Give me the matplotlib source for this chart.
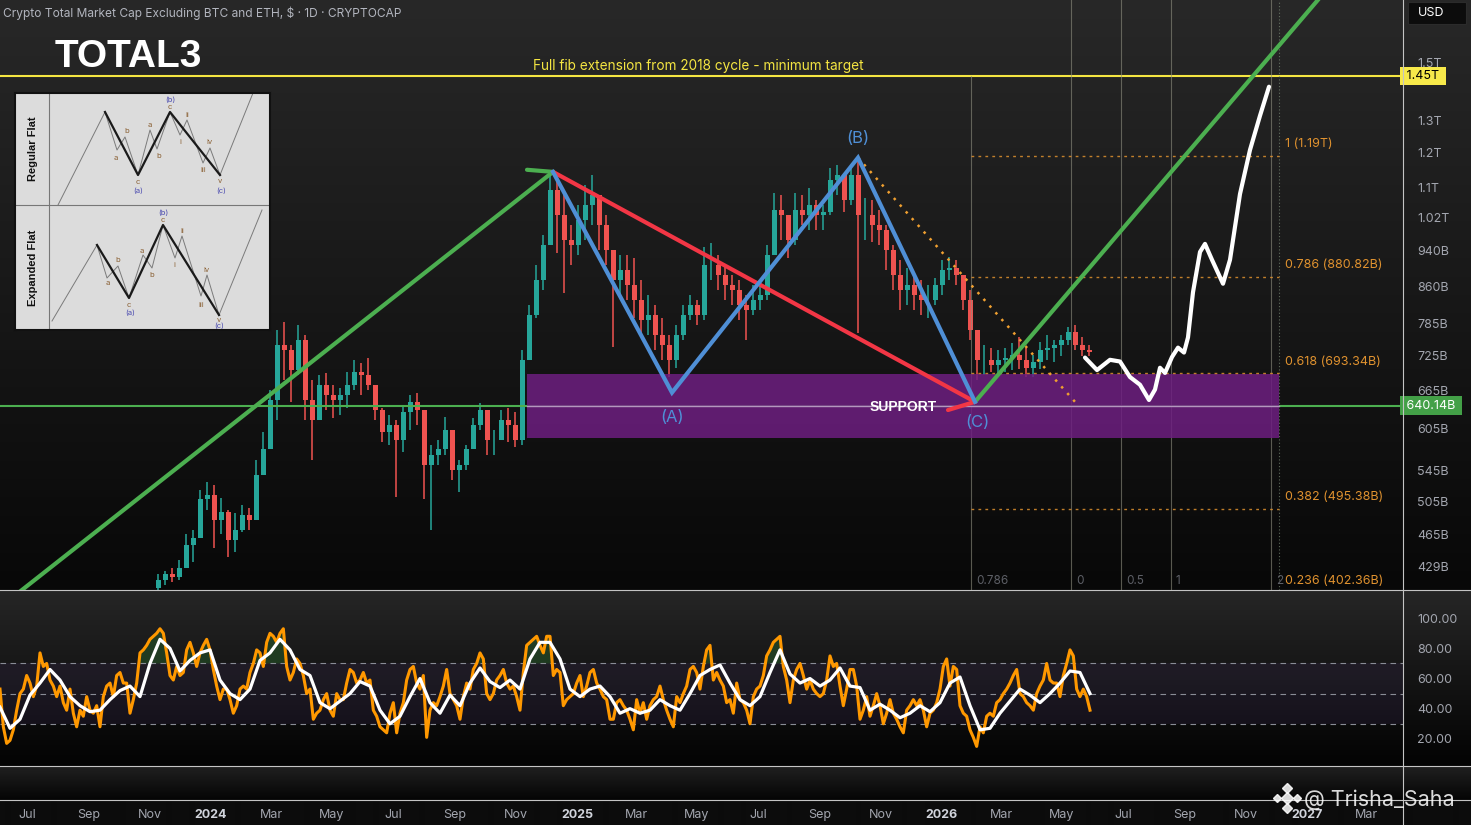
import numpy as np
import pandas as pd
import matplotlib
matplotlib.use("Agg")
import matplotlib.pyplot as plt
import matplotlib.dates as mdates
from matplotlib.lines import Line2D
from matplotlib.patches import Rectangle
from matplotlib.transforms import blended_transform_factory as blend
from matplotlib.ticker import NullLocator

plt.rcParams['font.family'] = ['Inter', 'DejaVu Sans']

# ---------------------------------------------------------------- data
title_text = "Crypto Total Market Cap Excluding BTC and ETH, $ \u00b7 1D \u00b7 CRYPTOCAP"
symbol = "TOTAL3"

# weekly candles (USD billions), first week starting 2023-11-06
candle_start = "2023-11-06"
first_open = 407
close = [415, 421, 418, 428, 453, 461, 507, 513, 482, 492,
         459, 470, 488, 482, 539, 574, 649, 744, 735, 699,
         754, 649, 618, 674, 657, 649, 657, 674, 696, 690,
         674, 633, 600, 610, 588, 630, 646, 633, 552, 566,
         574, 603, 546, 552, 574, 610, 633, 588, 588, 618,
         610, 588, 717, 802, 875, 954, 1093, 1027, 966, 954,
         1015, 1053, 1080, 1002, 942, 875, 896, 864, 832, 792,
         802, 763, 744, 717, 763, 802, 822, 802, 907, 907,
         885, 864, 853, 822, 812, 832, 843, 930, 1040, 1027,
         966, 1040, 1027, 1053, 1027, 1035, 1121, 1135, 1067, 1135,
         1027, 1027, 1002, 990, 942, 885, 853, 864, 843, 832,
         832, 864, 896, 900, 885, 832, 772, 717, 717, 708,
         717, 721, 726, 717, 703, 714, 735, 739, 744, 754,
         768, 744, 735, 731]
high = [421, 425, 428, 436, 465, 470, 519, 530, 526, 509,
        494, 490, 500, 497, 559, 600, 666, 772, 788, 744,
        782, 763, 682, 690, 694, 674, 669, 696, 717, 712,
        720, 674, 636, 625, 618, 641, 657, 661, 630, 581,
        588, 622, 596, 559, 581, 621, 644, 633, 603, 633,
        636, 630, 735, 822, 907, 978, 1149, 1121, 1080, 1002,
        1053, 1107, 1135, 1080, 1027, 942, 930, 930, 924, 875,
        843, 822, 796, 763, 782, 822, 843, 832, 949, 959,
        930, 907, 885, 875, 843, 864, 864, 954, 1085, 1080,
        1027, 1085, 1080, 1099, 1067, 1053, 1155, 1163, 1135, 1155,
        1184, 1072, 1067, 1040, 1002, 954, 919, 900, 885, 875,
        864, 879, 919, 926, 919, 885, 853, 763, 744, 739,
        735, 739, 748, 758, 739, 726, 750, 763, 754, 763,
        778, 782, 758, 744]
low = [405, 410, 413, 415, 428, 434, 465, 494, 449, 465,
       440, 445, 468, 470, 482, 546, 574, 618, 682, 646,
       690, 618, 559, 618, 633, 621, 625, 636, 666, 657,
       666, 618, 585, 581, 510, 571, 603, 610, 507, 470,
       552, 566, 532, 517, 546, 574, 603, 566, 566, 588,
       585, 577, 581, 717, 796, 853, 954, 935, 847, 907,
       930, 966, 1002, 942, 907, 740, 843, 832, 796, 763,
       763, 735, 717, 687, 703, 754, 792, 782, 792, 875,
       853, 832, 822, 792, 754, 802, 812, 832, 930, 966,
       924, 954, 1002, 990, 990, 990, 1027, 1080, 1035, 1053,
       767, 966, 961, 954, 896, 853, 812, 822, 812, 802,
       796, 822, 843, 875, 864, 812, 754, 682, 690, 696,
       690, 696, 699, 701, 687, 687, 701, 717, 714, 724,
       744, 735, 724, 724]

# RSI (orange) sampled every 10/3 days from 2023-06-04
rsi_start = "2023-06-04"
rsi_step_days = 10 / 3
rsi = [53, 28, 17, 19, 26, 39, 50, 53, 62, 57,
       48, 55, 77, 68, 70, 59, 55, 48, 55, 44,
       39, 53, 37, 28, 39, 35, 48, 39, 37, 42,
       28, 48, 55, 57, 48, 62, 64, 57, 57, 37,
       46, 57, 77, 79, 82, 86, 88, 90, 93, 90,
       77, 62, 59, 68, 62, 64, 79, 84, 77, 68,
       77, 82, 86, 79, 66, 55, 46, 53, 53, 46,
       37, 42, 53, 55, 53, 64, 70, 79, 77, 68,
       84, 90, 88, 84, 90, 93, 68, 59, 64, 73,
       70, 62, 50, 53, 33, 37, 39, 46, 50, 39,
       35, 50, 46, 46, 57, 66, 64, 57, 59, 64,
       57,
       59, 39, 35, 28, 26, 24, 37, 44, 24, 37,
       44, 59, 66, 68, 57, 53, 62, 21, 39, 44,
       42, 48, 55, 66, 50, 46, 42, 33, 48, 57,
       53, 66, 70, 77, 73, 50, 46, 50, 59, 62,
       66, 57, 53, 55, 48, 39, 64, 82, 84, 86,
       88, 82, 77, 88, 88, 62, 66, 64, 42, 46,
       48, 50, 57, 62, 48, 55, 64, 66, 57, 53,
       48, 46, 33, 33, 44, 46, 42, 39, 33, 26,
       46, 37, 44, 33, 42, 46, 48, 55, 46, 39,
       33, 28, 48, 44, 50, 55, 66, 68, 64, 53,
       68, 79, 82, 59, 64, 59, 55, 44,
       46, 37, 57, 46, 44, 39, 30, 48, 53, 55,
       62, 75, 79, 84, 86, 88, 68, 59, 44, 59,
       66, 70, 62, 53, 59, 53, 50, 48, 50, 59,
       75, 68, 70, 55, 42, 53, 66, 66, 55, 33,
       39, 48, 35, 42, 50, 42, 30, 37, 46, 37,
       33, 28, 24, 39, 42, 46, 42, 46, 39, 28,
       37, 39, 44, 53, 68, 73, 55, 68, 66, 42,
       37, 35, 26, 21, 15, 28, 24, 35, 37, 35,
       44, 46, 50, 53, 57, 62, 66, 50, 48, 44,
       42, 39, 50, 55, 59, 70, 59, 57, 57, 48,
       62, 70, 79, 75, 53, 48, 53, 48, 39]
# RSI moving average (white) sampled every 10 days from 2023-06-04
ma_step_days = 10
rsi_ma = [41, 27, 33, 49, 57, 66, 59, 48, 42, 38,
          39, 46, 52, 55, 48, 70, 86, 80, 65, 72,
          77, 79, 59, 50, 46, 53, 72, 77, 86, 79,
          66, 62, 44, 40, 45, 50, 58, 55, 39, 30,
          35, 48, 60, 44, 37, 49, 42, 57, 67, 58,
          54, 59, 53, 73, 84, 84, 73, 53, 48, 53,
          55, 48, 37, 40, 37, 39, 46, 42, 39, 50,
          62, 66, 69, 57, 46, 42, 48, 64, 79, 63,
          57, 60, 55, 59, 67, 55, 54, 39, 43, 39,
          34, 37, 42, 38, 44, 57, 61, 42, 26, 27,
          37, 45, 53, 49, 44, 50, 57, 65, 64, 50]

# hand-drawn projection (days after 2026-01-01, USD billions)
proj_days = [143, 155, 168, 178, 188, 198, 207, 213, 218, 223, 230, 236,
             242, 246, 251, 258, 263, 270, 281, 288, 298, 308, 318, 327]
proj_price = [721, 699, 717, 714, 687, 674, 649, 666, 703, 694, 722, 739,
              730, 758, 848, 937, 956, 919, 866, 919, 1082, 1207, 1314, 1412]

# flat-correction waves
wave_dates = ["2024-12-08", "2025-04-06", "2025-10-09", "2026-02-03"]
wave_prices = [1143, 661, 1184, 646]
wave_labels = ["(A)", "(B)", "(C)"]

trend1_dates = ["2023-06-04", "2024-12-08"]
trend1_prices = [388, 1143]
stub_dates = ["2024-11-12", "2024-12-08"]
stub_prices = [1149, 1143]
trend2_dates = ["2026-02-03", "2027-01-24"]
trend2_prices = [646, 1814]
red_dates = ["2024-12-08", "2026-02-03"]
red_prices = [1143, 646]
red_barb_dates = ["2026-01-07", "2026-02-03"]
red_barb_prices = [633, 646]
dotted_dates = ["2025-10-09", "2026-05-14"]
dotted_prices = [1184, 646]

target_price = 1450
target_label = "1.45T"
target_text = "Full fib extension from 2018 cycle - minimum target"
target_text_date = "2025-05-02"
support_price = 640.14
support_label = "640.14B"
support_box_dates = ["2024-11-12", "2026-12-04"]
support_box_prices = [591, 693]
support_text_date = "2025-11-23"

fib_start, fib_end = "2026-01-30", "2026-12-04"
fib_label_date = "2026-12-10"
fib_prices = [1190, 880.82, 693.34, 495.38, 402.36]
fib_labels = ["1 (1.19T)", "0.786 (880.82B)", "0.618 (693.34B)",
              "0.382 (495.38B)", "0.236 (402.36B)"]

tz_dates = ["2026-01-30", "2026-05-10", "2026-06-29", "2026-08-18", "2026-11-26"]
tz_labels = ["0.786", "0", "0.5", "1", "2"]
tz_edge_date = "2026-12-04"

price_ticks = [1500, 1300, 1200, 1100, 1020, 940, 860, 785, 725, 665, 605, 545, 505, 465, 429]
price_tick_labels = ["1.5T", "1.3T", "1.2T", "1.1T", "1.02T", "940B", "860B", "785B",
                     "725B", "665B", "605B", "545B", "505B", "465B", "429B"]
rsi_ticks = [100, 80, 60, 40, 20]
rsi_tick_labels = ["100.00", "80.00", "60.00", "40.00", "20.00"]
rsi_levels = [70, 50, 30]

x_start, x_end = "2023-06-04", "2027-04-07"
y_min, y_max = 405, 1751

# ---------------------------------------------------------------- layout helpers
W, H = 1471, 825
fig = plt.figure(figsize=(W / 100, H / 100), dpi=100)
fig.patch.set_facecolor("#000000")


def fx(px):
    return px / W


def fy(py):
    return 1 - py / H


def dn(s):
    return mdates.date2num(pd.Timestamp(s))


def dns(lst):
    return [dn(s) for s in lst]


UP, DN = "#26a69a", "#ef5350"
ORANGE_FIB = "#e0922f"
BLUE = "#4f8fd6"
AXIS_TXT = "#a3a6af"

# background gradients
def grad(n, top, bot):
    t = np.linspace(0, 1, n)[:, None]
    return (1 - t) * np.array(top, float) + t * np.array(bot, float)


rows = np.vstack([grad(590, (40, 40, 40), (8, 8, 8)),
                  grad(176, (38, 38, 38), (3, 3, 3)),
                  grad(34, (32, 32, 32), (5, 5, 5)),
                  grad(25, (12, 12, 12), (12, 12, 12))]) / 255.0
bg = fig.add_axes([0, 0, 1, 1], zorder=-5)
bg.imshow(rows[:, None, :], aspect="auto", extent=[0, 1, 0, 1], interpolation="bilinear")
bg.axis("off")

# ---------------------------------------------------------------- main price pane
ax = fig.add_axes([0, fy(590), fx(1403), 590 / H])
ax.set_facecolor("none")
ax.set_yscale("log")
ax.set_ylim(y_min, y_max)
ax.set_xlim(dn(x_start), dn(x_end))
for s in ax.spines.values():
    s.set_visible(False)
ax.yaxis.tick_right()
ax.yaxis.set_minor_locator(NullLocator())
ax.set_yticks(price_ticks)
ax.set_yticklabels(price_tick_labels)
ax.tick_params(axis="y", length=0, pad=10, labelsize=9, labelcolor=AXIS_TXT)
ax.tick_params(axis="x", bottom=False, labelbottom=False)

# candles
cd = mdates.date2num(pd.date_range(candle_start, periods=len(close), freq="7D")) + 3.5
c = np.array(close, float)
o = np.r_[first_open, c[:-1]]
hi = np.maximum(np.array(high, float), np.maximum(o, c))
lo = np.minimum(np.array(low, float), np.minimum(o, c))
cols = np.where(c >= o, UP, DN)
ax.vlines(cd, lo, hi, colors=cols, lw=1.1, zorder=2)
ax.bar(cd, np.abs(c - o), bottom=np.minimum(o, c), width=5.6, color=cols, lw=0, zorder=2)

# horizontal target & support lines
ax.axhline(support_price, color="#4caf50", lw=1.5, zorder=3)
ax.axhline(target_price, color="#f5e642", lw=1.5, zorder=3)

# support box with middle line
bx0, bx1 = dns(support_box_dates)
ax.add_patch(Rectangle((bx0, support_box_prices[0]), bx1 - bx0,
                       support_box_prices[1] - support_box_prices[0],
                       facecolor="#6d1e80", alpha=0.85, lw=0, zorder=4))
ax.plot([bx0, bx1], [support_price, support_price], color="#b497be", lw=1.0, zorder=4.5)

# fib time-zone verticals
tzx = dns(tz_dates)
ax.plot([tzx[0], tzx[0]], [y_min, target_price], color="#8f8f80", lw=0.8, alpha=0.6, zorder=3)
for xv in tzx[1:]:
    ax.axvline(xv, color="#8f8f80", lw=0.8, alpha=0.6, zorder=3)
ax.axvline(dn(tz_edge_date), color="#7f8f7a", lw=0.8, ls=(0, (1, 2)), alpha=0.7, zorder=3)
trans_xa = blend(ax.transData, ax.transAxes)
for xv, lab in zip(tzx, tz_labels):
    ax.text(xv + 5, 9 / 590, lab, transform=trans_xa, color="#5d5f66", fontsize=8.5,
            ha="left", va="center", zorder=5)

# fib levels
f0, f1 = dn(fib_start), dn(fib_end)
for p, lab in zip(fib_prices, fib_labels):
    ax.plot([f0, f1], [p, p], color=ORANGE_FIB, lw=1.0, ls=(0, (2, 3)), alpha=0.85, zorder=4.6)
    ax.annotate(lab, (dn(fib_label_date), p), xytext=(0, 4), textcoords="offset points",
                color=ORANGE_FIB, fontsize=9, ha="left", va="bottom",
                annotation_clip=False, zorder=8)

# trend lines and waves
ax.plot(dns(trend1_dates), trend1_prices, color="#4caf50", lw=3, solid_capstyle="round", zorder=6)
ax.plot(dns(stub_dates), stub_prices, color="#4caf50", lw=3, solid_capstyle="round", zorder=6)
ax.plot(dns(trend2_dates), trend2_prices, color="#4caf50", lw=3, solid_capstyle="round", zorder=6)
ax.plot(dns(red_dates), red_prices, color="#f23645", lw=3, solid_capstyle="round", zorder=6)
ax.plot(dns(red_barb_dates), red_barb_prices, color="#f23645", lw=3, solid_capstyle="round", zorder=6)
ax.plot(dns(wave_dates), wave_prices, color=BLUE, lw=3, solid_joinstyle="miter", zorder=6.5)
ax.plot(dns(dotted_dates), dotted_prices, color="#f0a030", lw=1.8, ls=(0, (1, 2.6)), zorder=5)

# wave labels
wx = dns(wave_dates)
ax.annotate(wave_labels[0], (wx[1], wave_prices[1]), xytext=(0, -18), textcoords="offset points",
            color=BLUE, fontsize=12, ha="center", va="center", zorder=8)
ax.annotate(wave_labels[1], (wx[2], wave_prices[2]), xytext=(0, 14), textcoords="offset points",
            color=BLUE, fontsize=12, ha="center", va="center", zorder=8)
ax.annotate(wave_labels[2], (wx[3], wave_prices[3]), xytext=(2, -15), textcoords="offset points",
            color=BLUE, fontsize=12, ha="center", va="center", zorder=8)

# projection
px_ = [dn("2026-01-01") + dd for dd in proj_days]
ax.plot(px_, proj_price, color="white", lw=3, solid_joinstyle="round",
        solid_capstyle="round", zorder=7)

# texts
ax.annotate(target_text, (dn(target_text_date), target_price), xytext=(0, 4),
            textcoords="offset points", color="#f5e642", fontsize=9.8,
            ha="center", va="baseline", zorder=8)
ax.text(dn(support_text_date), support_price, "SUPPORT", color="white", fontsize=10,
        fontweight="bold", ha="center", va="center_baseline", zorder=8,
        family=["Liberation Sans", "DejaVu Sans"])

# price-scale badges
trans_ay = blend(ax.transAxes, ax.transData)
ax.text(1.0, target_price, " " + target_label + " ", transform=trans_ay, ha="left", va="center",
        fontsize=9, color="black", clip_on=False, zorder=9,
        bbox=dict(boxstyle="square,pad=0.25", fc="#f7e94a", ec="none"))
ax.text(1.0, support_price, " " + support_label + " ", transform=trans_ay, ha="left", va="center",
        fontsize=9, color="white", clip_on=False, zorder=9,
        bbox=dict(boxstyle="square,pad=0.25", fc="#43a047", ec="none"))

# ---------------------------------------------------------------- RSI pane
ax2 = fig.add_axes([0, fy(766), fx(1403), 176 / H])
ax2.set_facecolor("none")
ax2.set_xlim(dn(x_start), dn(x_end))
ax2.set_ylim(2, 118.7)
for s in ax2.spines.values():
    s.set_visible(False)
ax2.yaxis.tick_right()
ax2.set_yticks(rsi_ticks)
ax2.set_yticklabels(rsi_tick_labels)
ax2.tick_params(axis="y", length=0, pad=10, labelsize=9, labelcolor=AXIS_TXT)
ax2.tick_params(axis="x", bottom=False, labelbottom=False)
ax2.axhspan(30, 70, color="#7e57c2", alpha=0.09, lw=0)
for lv in rsi_levels:
    ax2.axhline(lv, color="#8a8d96", lw=0.8, ls=(0, (5, 4)))
rx = dn(rsi_start) + np.arange(len(rsi)) * rsi_step_days
r = np.array(rsi, float)
ax2.fill_between(rx, 70, r, where=r > 70, interpolate=True, color="#2e7d32", alpha=0.35, lw=0)
ax2.plot(rx, r, color="#ff9800", lw=2.2, zorder=3, solid_joinstyle="round")
mx = dn(rsi_start) + np.arange(len(rsi_ma)) * ma_step_days
ax2.plot(mx, rsi_ma, color="white", lw=2.3, zorder=4, solid_joinstyle="round")

# ---------------------------------------------------------------- date strip
sx = fig.add_axes([0, fy(800), fx(1403), 34 / H])
sx.set_facecolor("none")
sx.set_xlim(dn(x_start), dn(x_end))
for s in sx.spines.values():
    s.set_visible(False)
sx.set_yticks([])
tick_dates = pd.date_range("2023-07-01", "2027-03-01", freq="2MS")
sx.set_xticks([dn(t) for t in tick_dates])
sx.set_xticklabels([str(t.year) if t.month == 1 else t.strftime("%b") for t in tick_dates])
sx.tick_params(axis="x", length=0, pad=6.5, labelsize=9, labelcolor=AXIS_TXT)
for t, lab in zip(tick_dates, sx.get_xticklabels()):
    if t.month == 1:
        lab.set_fontweight("bold")
        lab.set_color("#d1d4dc")

# separators
for yy in (590, 766, 800):
    fig.add_artist(Line2D([0, 1], [fy(yy), fy(yy)], transform=fig.transFigure,
                          color="#c4c4c4", lw=0.8))
fig.add_artist(Line2D([fx(1403), fx(1403)], [0, 1], transform=fig.transFigure,
                      color="#c4c4c4", lw=0.8))

# ---------------------------------------------------------------- header texts
fig.text(fx(3), fy(17), title_text, color="#b2b5be", fontsize=8.6, ha="left", va="baseline")
fig.text(fx(55), fy(67), symbol, color="white", fontsize=28, fontweight="bold",
         ha="left", va="baseline", family=["Liberation Sans", "DejaVu Sans"])
fig.add_artist(Rectangle((fx(1408), fy(24)), fx(58), 22 / H, transform=fig.transFigure,
                         facecolor="#0c0c0c", edgecolor="#2b2b2b", lw=0.8))
fig.text(fx(1418), fy(13), "USD", color="white", fontsize=9, ha="left", va="center")

# ---------------------------------------------------------------- inset diagram
ain = fig.add_axes([fx(15), fy(330), fx(255), 237 / H])
ain.set_xlim(15, 270)
ain.set_ylim(330, 93)
ain.set_facecolor("#dcdcdc")
ain.set_xticks([])
ain.set_yticks([])
for s in ain.spines.values():
    s.set_color("#111111")
    s.set_linewidth(1.5)
ain.plot([15, 270], [205, 205], color="#777777", lw=0.8)
ain.plot([49, 49], [93, 330], color="#777777", lw=0.8)
ain.text(33, 149, "Regular Flat", rotation=90, ha="center", va="center", fontsize=8,
         fontweight="bold", color="#111111", family=["Liberation Sans", "DejaVu Sans"])
ain.text(33, 268, "Expanded Flat", rotation=90, ha="center", va="center", fontsize=8,
         fontweight="bold", color="#111111", family=["Liberation Sans", "DejaVu Sans"])

reg_lead = [(58, 205), (105, 112)]
reg_main = [(105, 112), (138, 175), (170, 112), (220, 175)]
reg_exit = [(220, 175), (253, 93)]
reg_sub = [(105, 112), (117, 150), (125, 137), (138, 175), (150, 130), (157, 149),
           (170, 112), (180, 135), (187, 120), (203, 163), (210, 148), (220, 175)]
exp_lead = [(52, 321), (97, 245)]
exp_main = [(97, 245), (129, 298), (163, 225), (219, 315)]
exp_exit = [(219, 315), (262, 210)]
exp_sub = [(97, 245), (107, 278), (118, 266), (129, 298), (143, 255), (152, 268),
           (163, 225), (175, 258), (182, 236), (201, 296), (207, 275), (219, 315)]
for seg in (reg_lead, reg_exit, reg_sub, exp_lead, exp_exit, exp_sub):
    xs, ys = zip(*seg)
    ain.plot(xs, ys, color="#7a7a7a", lw=0.7)
for seg in (reg_main, exp_main):
    xs, ys = zip(*seg)
    ain.plot(xs, ys, color="#1a1a1a", lw=1.6)

brown = "#8a6034"
blue_l = "#4b4bb0"
reg_labels = [(116, 158, "a", brown), (127, 131, "b", brown), (138, 182, "c", brown),
              (138, 191, "(a)", blue_l), (150, 125, "a", brown), (159, 156, "b", brown),
              (170, 107, "c", brown), (170, 100, "(b)", blue_l), (187, 115, "ii", brown),
              (180, 142, "i", brown), (210, 142, "iv", brown), (203, 170, "iii", brown),
              (220, 181, "v", brown), (221, 191, "(c)", blue_l)]
exp_labels = [(108, 283, "a", brown), (118, 260, "b", brown), (129, 305, "c", brown),
              (130, 313, "(a)", blue_l), (142, 251, "a", brown), (152, 275, "b", brown),
              (163, 220, "c", brown), (163, 213, "(b)", blue_l), (182, 231, "ii", brown),
              (174, 265, "i", brown), (207, 270, "iv", brown), (201, 305, "iii", brown),
              (219, 320, "v", brown), (219, 326, "(c)", blue_l)]
for xx, yy, t, cc in reg_labels + exp_labels:
    ain.text(xx, yy, t, ha="center", va="center", fontsize=5.5, color=cc)

# ---------------------------------------------------------------- watermark
cxl, cyl = 1287, 798
for dx, dy, ms in [(0, 0, 6), (-10, 0, 4), (10, 0, 4), (0, -10, 5), (0, 10, 5)]:
    fig.add_artist(Line2D([fx(cxl + dx)], [fy(cyl + dy)], transform=fig.transFigure,
                          marker="D", ms=ms, color="white", alpha=0.85, lw=0))
fig.text(fx(1304), fy(806), "@ Trisha_Saha", color="white", alpha=0.85, fontsize=15.5,
         ha="left", va="baseline")

fig.savefig("out.png", dpi=100, facecolor=fig.get_facecolor())
